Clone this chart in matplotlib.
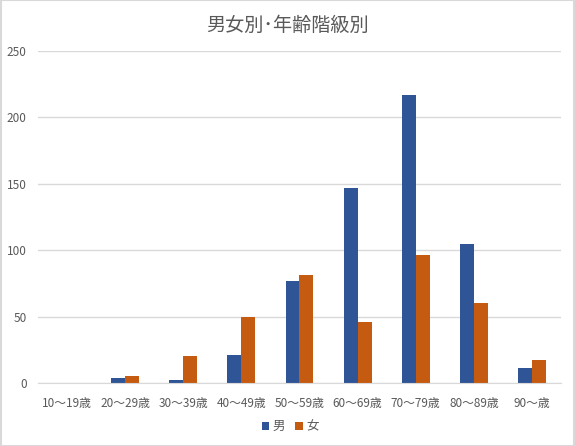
import matplotlib.pyplot as plt
import numpy as np

plt.rcParams['font.family'] = ['Noto Sans CJK JP', 'DejaVu Sans']

# data
age_groups = ['10～19歳', '20～29歳', '30～39歳', '40～49歳', '50～59歳',
              '60～69歳', '70～79歳', '80～89歳', '90～歳']
male = [0, 4, 2, 21, 77, 147, 217, 105, 11]
female = [0, 5, 20, 50, 81, 46, 96, 60, 17]

BLUE = '#2F5597'
ORANGE = '#C55A11'
GRID = '#D9D9D9'
TEXT = '#595959'

fig = plt.figure(figsize=(5.75, 4.46), dpi=100)
ax = fig.add_axes([0.066, 0.1413, 0.9097, 0.7444])

x = np.arange(len(age_groups))
width = 0.24
ax.bar(x - width / 2, male, width, color=BLUE, label='男', zorder=3)
ax.bar(x + width / 2, female, width, color=ORANGE, label='女', zorder=3)

ax.set_xlim(-0.5, len(age_groups) - 0.5)
ax.set_ylim(0, 250)
ax.set_yticks(range(0, 251, 50))
ax.set_xticks(x, age_groups)
ax.grid(axis='y', color=GRID, linewidth=1, zorder=0)
for side in ['top', 'right', 'left']:
    ax.spines[side].set_visible(False)
ax.spines['bottom'].set_color(GRID)
ax.spines['bottom'].set_zorder(4)
ax.tick_params(axis='both', length=0, colors=TEXT, labelsize=8.5)
ax.tick_params(axis='y', pad=8)
ax.tick_params(axis='x', pad=10)

fig.text(0.5, 0.942, '男女別･年齢階級別', ha='center', va='center',
         fontsize=13.8, color=TEXT)

fig.legend(loc='center', bbox_to_anchor=(0.505, 0.043), ncol=2, frameon=False,
           fontsize=9, labelcolor=TEXT, handlelength=0.6, handleheight=0.6,
           handletextpad=0.3, columnspacing=0.8)

# light frame round the chart, as in the spreadsheet export
fig.patches.append(plt.Rectangle((0.001, 0.001), 0.998, 0.998,
                                 transform=fig.transFigure, fill=False,
                                 edgecolor=GRID, linewidth=1.5))

fig.savefig('out.png', dpi=100, facecolor='white')
